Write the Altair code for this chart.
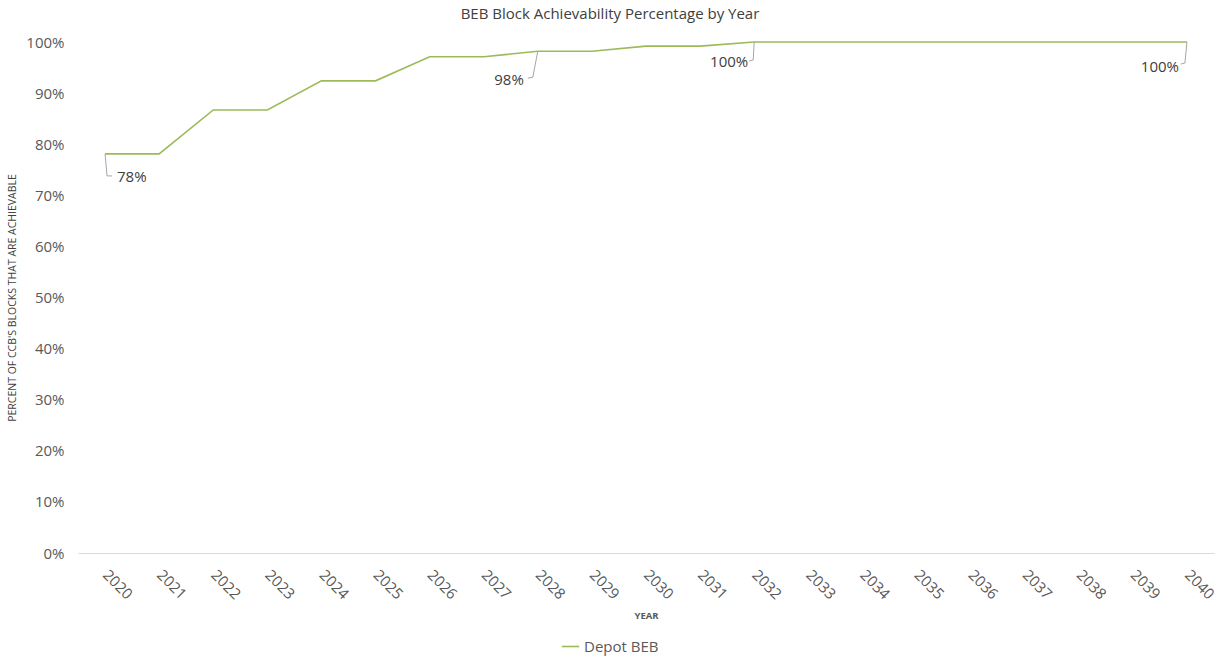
import altair as alt
import pandas as pd

years = [str(y) for y in range(2020, 2041)]
values = [0.781, 0.781, 0.867, 0.867, 0.924, 0.924, 0.971, 0.971, 0.982, 0.982,
          0.992, 0.992, 1.0, 1.0, 1.0, 1.0, 1.0, 1.0, 1.0, 1.0, 1.0]
series_name = "Depot BEB"

label_years = ["2020", "2028", "2032", "2040"]
label_texts = ["78%", "98%", "100%", "100%"]

df = pd.DataFrame({"year": years, "value": values, "series": series_name})
lab = pd.DataFrame({"year": label_years, "text": label_texts})
lab["value"] = [values[years.index(y)] for y in label_years]

FONT = "Open Sans"
TXT = "#595959"
GREEN = "#9BBB59"

xenc = alt.X("year:O", scale=alt.Scale(type="point", padding=0.5),
             axis=alt.Axis(title="YEAR", labelAngle=45, labelAlign="left",
                           labelBaseline="middle", labelPadding=19,
                           labelFontSize=15, labelColor=TXT, ticks=False,
                           domainColor="#D9D9D9", titleFontSize=9.5,
                           titleFontWeight="bold", titleColor=TXT,
                           titlePadding=9, labelFont=FONT, titleFont=FONT))
yenc = alt.Y("value:Q", scale=alt.Scale(domain=[0, 1], nice=False),
             axis=alt.Axis(title="PERCENT OF CCB'S BLOCKS THAT ARE ACHIEVABLE",
                           format=".0%", values=[i / 10 for i in range(11)],
                           labelFontSize=15, labelColor=TXT, ticks=False,
                           domain=False, grid=False, labelPadding=14,
                           titleFontSize=10.5, titleFontWeight="normal",
                           titleColor="#404040", titlePadding=8, labelFont=FONT,
                           titleFont=FONT))

line = alt.Chart(df).mark_line(strokeWidth=1.6).encode(
    x=xenc, y=yenc,
    color=alt.Color("series:N", scale=alt.Scale(range=[GREEN]),
                    legend=alt.Legend(title=None, orient="none", legendX=483,
                                      legendY=595, symbolType="stroke",
                                      symbolStrokeWidth=1.6, symbolSize=300,
                                      labelFontSize=15, labelColor=TXT,
                                      labelFont=FONT)),
)

# annotation specs: (index, leader1 dx,dy, leader2 dx,dy, text dx, dy, align)
specs = [
    (0, (2, 22), (7, 22), 12, 23, "left"),
    (1, (-5, 26), (-10, 27), -14, 29, "right"),
    (2, (-1, 18), (-5, 19), -6, 20, "right"),
    (3, (-2, 21), (-6, 22), -8, 25, "right"),
]
layers = [line]
for idx, p1, p2, tdx, tdy, al in specs:
    d = lab.iloc[[idx]]
    base = alt.Chart(d)
    r1 = base.mark_rule(color="#A6A6A6", strokeWidth=1, x2Offset=p1[0], y2Offset=p1[1]).encode(
        x="year:O", y="value:Q", x2="year:O", y2="value:Q")
    r2 = base.mark_rule(color="#A6A6A6", strokeWidth=1, xOffset=p1[0], yOffset=p1[1],
                        x2Offset=p2[0], y2Offset=p2[1]).encode(
        x="year:O", y="value:Q", x2="year:O", y2="value:Q")
    t = base.mark_text(align=al, baseline="middle", dx=tdx, dy=tdy, fontSize=15,
                       color="#404040", font=FONT).encode(
        x="year:O", y="value:Q", text="text:N")
    layers += [r1, r2, t]

chart = alt.layer(*layers).properties(
    width=1136, height=511,
    background="white",
    title=alt.TitleParams("BEB Block Achievability Percentage by Year", fontSize=15,
                          font=FONT, fontWeight="normal", color="#404040", offset=13,
                          dx=-36),
    autosize=alt.AutoSizeParams(type="none"),
    padding={"left": 78, "top": 42, "right": 11, "bottom": 103},
).configure_view(stroke=None, strokeWidth=0)

chart.save("out.html", embed_options={"renderer": "svg", "actions": False})
